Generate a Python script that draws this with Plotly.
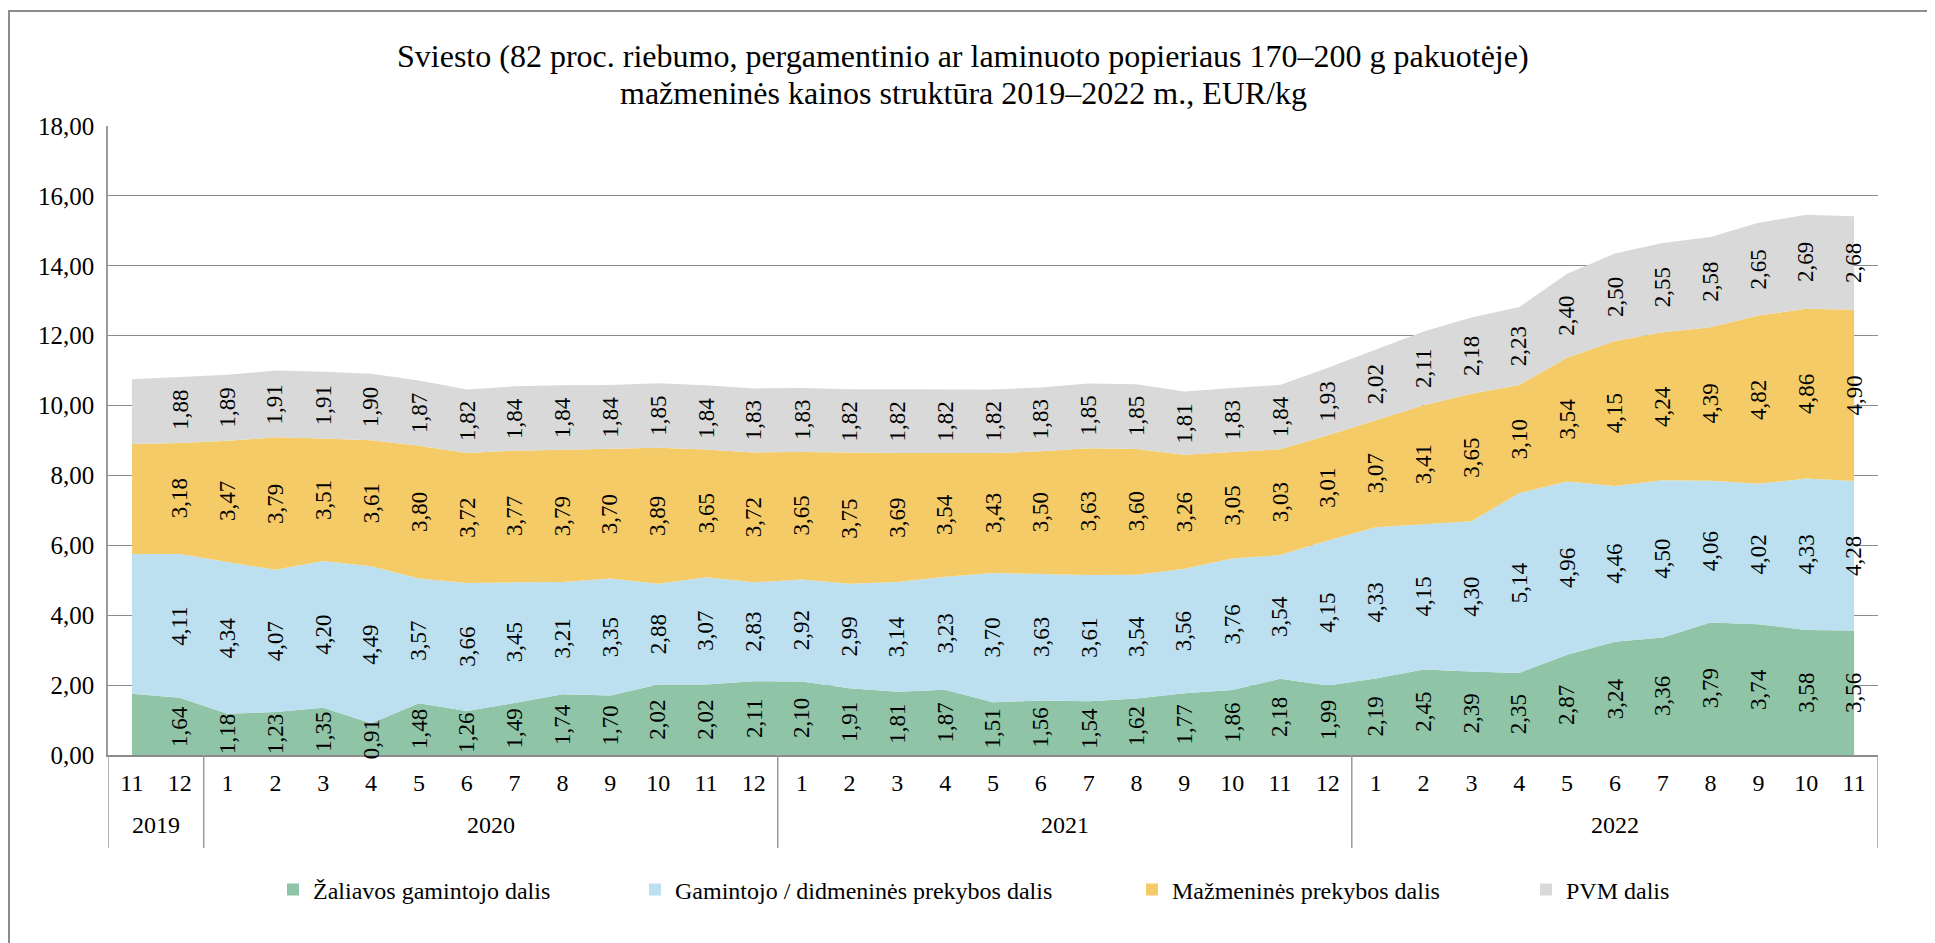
import plotly.graph_objects as go

# ── Data ─────────────────────────────────────────────────────────────────────
years = ["2019"] * 2 + ["2020"] * 12 + ["2021"] * 12 + ["2022"] * 11
months = ["11", "12"] + [str(m) for m in range(1, 13)] * 2 + [str(m) for m in range(1, 12)]

# first month (2019-11) has no label in the source; its values are read from the area edges
zaliavos = [1.75, 1.64, 1.18, 1.23, 1.35, 0.91, 1.48, 1.26, 1.49, 1.74, 1.70, 2.02, 2.02, 2.11,
            2.10, 1.91, 1.81, 1.87, 1.51, 1.56, 1.54, 1.62, 1.77, 1.86, 2.18, 1.99,
            2.19, 2.45, 2.39, 2.35, 2.87, 3.24, 3.36, 3.79, 3.74, 3.58, 3.56]
gamintojo = [4.00, 4.11, 4.34, 4.07, 4.20, 4.49, 3.57, 3.66, 3.45, 3.21, 3.35, 2.88, 3.07, 2.83,
             2.92, 2.99, 3.14, 3.23, 3.70, 3.63, 3.61, 3.54, 3.56, 3.76, 3.54, 4.15,
             4.33, 4.15, 4.30, 5.14, 4.96, 4.46, 4.50, 4.06, 4.02, 4.33, 4.28]
mazmenine = [3.15, 3.18, 3.47, 3.79, 3.51, 3.61, 3.80, 3.72, 3.77, 3.79, 3.70, 3.89, 3.65, 3.72,
             3.65, 3.75, 3.69, 3.54, 3.43, 3.50, 3.63, 3.60, 3.26, 3.05, 3.03, 3.01,
             3.07, 3.41, 3.65, 3.10, 3.54, 4.15, 4.24, 4.39, 4.82, 4.86, 4.90]
pvm = [1.85, 1.88, 1.89, 1.91, 1.91, 1.90, 1.87, 1.82, 1.84, 1.84, 1.84, 1.85, 1.84, 1.83,
       1.83, 1.82, 1.82, 1.82, 1.82, 1.83, 1.85, 1.85, 1.81, 1.83, 1.84, 1.93,
       2.02, 2.11, 2.18, 2.23, 2.40, 2.50, 2.55, 2.58, 2.65, 2.69, 2.68]

SERIES = [
    ("Žaliavos gamintojo dalis", zaliavos, "#8FC4A7"),
    ("Gamintojo / didmeninės prekybos dalis", gamintojo, "#BDE0F0"),
    ("Mažmeninės prekybos dalis", mazmenine, "#F5CB67"),
    ("PVM dalis", pvm, "#D9D9D9"),
]

TITLE_1 = "Sviesto (82 proc. riebumo, pergamentinio ar laminuoto popieriaus 170–200 g pakuotėje)"
TITLE_2 = "mažmeninės kainos struktūra 2019–2022 m., EUR/kg"

FONT = "Liberation Serif, Times New Roman, serif"
OFF = 8                      # body margin of the html page
W, H = 1935 - OFF, 943 - OFF
L, T = 108 - OFF, 126 - OFF  # plot area in page pixels: x 108..1878, y 126..755
PW, PH = 1770, 629
R, B = W - L - PW, H - T - PH

def px_x(px):
    # page pixel -> paper x
    return (px - OFF - L) / PW

def px_y(py):
    # page pixel -> paper y
    return (T + PH - (py - OFF)) / PH

x = list(range(len(months)))
fig = go.Figure()

# ── Stacked areas ────────────────────────────────────────────────────────────
for name, vals, color in SERIES:
    fig.add_trace(go.Scatter(
        x=x, y=vals, stackgroup="one", mode="lines",
        line=dict(width=0, color=color), fillcolor=color,
        name=name, showlegend=False, hoverinfo="skip",
    ))

# ── Data labels (vertical, centred in each band) ─────────────────────────────
base = [0.0] * len(x)
for name, vals, color in SERIES:
    for i in range(1, len(x)):
        fig.add_annotation(
            x=i, y=base[i] + vals[i] / 2,
            text=f"{vals[i]:.2f}".replace(".", ","),
            textangle=-90, showarrow=False,
            font=dict(family=FONT, size=23, color="#000000"),
        )
    base = [b + v for b, v in zip(base, vals)]

# ── Year labels and separators under the axis ────────────────────────────────
groups = []
for i, yv in enumerate(years):
    if groups and groups[-1][0] == yv:
        groups[-1][2] = i
    else:
        groups.append([yv, i, i])

sep_bottom = px_y(848)
for yv, i0, i1 in groups:
    fig.add_annotation(
        x=(i0 + i1) / 2, y=px_y(825), xref="x", yref="paper",
        text=yv, showarrow=False, yanchor="middle",
        font=dict(family=FONT, size=24, color="#000000"),
    )
    fig.add_shape(type="line", xref="x", yref="paper",
                  x0=i0 - 0.5, x1=i0 - 0.5, y0=0, y1=sep_bottom,
                  line=dict(color="#9a9a9a", width=1.5))
fig.add_shape(type="line", xref="x", yref="paper",
              x0=len(x) - 0.5, x1=len(x) - 0.5, y0=0, y1=sep_bottom,
              line=dict(color="#9a9a9a", width=1.5))

# ── Outer chart border ───────────────────────────────────────────────────────
fig.add_shape(type="rect", xref="paper", yref="paper",
              x0=px_x(9), x1=px_x(1960), y0=px_y(970), y1=px_y(11),
              line=dict(color="#8c8c8c", width=2), fillcolor="rgba(0,0,0,0)")

# ── Title (two lines, tighter leading than plotly's <br>) ───────────────────
for txt, py in [(TITLE_1, 56), (TITLE_2, 93)]:
    fig.add_annotation(
        text=txt, x=px_x(963), y=px_y(py), xref="paper", yref="paper",
        xanchor="center", yanchor="middle", showarrow=False,
        font=dict(family=FONT, size=32, color="#000000"),
    )

# ── Legend (one legend per entry to match the spread-out layout) ────────────
legend_text_px = [313, 675, 1172, 1566]
legend_cfg = {}
for k, ((name, vals, color), tx) in enumerate(zip(SERIES, legend_text_px)):
    key = "legend" if k == 0 else f"legend{k + 1}"
    fig.add_trace(go.Scatter(
        x=[None], y=[None], mode="markers", name=name,
        marker=dict(symbol="square", size=12, color=color),
        legend=key, showlegend=True,
    ))
    legend_cfg[key] = dict(
        x=px_x(tx - 40), y=px_y(890), xanchor="left", yanchor="middle",
        orientation="h", bgcolor="rgba(0,0,0,0)", borderwidth=0,
        font=dict(family=FONT, size=24, color="#000000"),
    )

fig.update_layout(
    width=W, height=H,
    margin=dict(l=L, r=R, t=T, b=B),
    paper_bgcolor="#ffffff", plot_bgcolor="#ffffff",
    separators=", ",
    font=dict(family=FONT, color="#000000"),
    xaxis=dict(
        range=[-0.5, len(x) - 0.5], tickvals=x, ticktext=months,
        showgrid=False, zeroline=False, showline=True,
        linecolor="#8c8c8c", linewidth=2, ticks="",
        ticklabelstandoff=5,
        tickfont=dict(family=FONT, size=24, color="#000000"),
    ),
    yaxis=dict(
        range=[0, 18], dtick=2, tickformat=".2f",
        showgrid=True, gridcolor="#8c8c8c", gridwidth=1,
        zeroline=False, showline=True, linecolor="#9a9a9a", linewidth=1.5,
        ticks="", ticklabelstandoff=7,
        tickfont=dict(family=FONT, size=25, color="#000000"),
    ),
    **legend_cfg,
)

fig.write_html("out.html")
